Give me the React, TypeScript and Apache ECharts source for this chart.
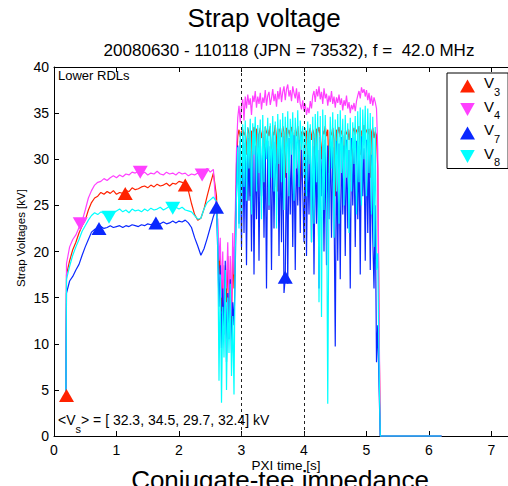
import { useEffect, useRef } from 'react';
import * as echarts from 'echarts';

const FONT = '"Liberation Sans", Arial, Helvetica, sans-serif';

// time samples (s)
const T_RAMP = [0.19, 0.2, 0.25, 0.3, 0.35, 0.4, 0.45, 0.5, 0.55, 0.6,
  0.65, 0.7, 0.75, 0.8, 0.85, 0.9, 0.95, 1.0, 1.05, 1.1,
  1.15, 1.2, 1.25, 1.3, 1.35, 1.4, 1.45, 1.5, 1.55, 1.6,
  1.65, 1.7, 1.75, 1.8, 1.85, 1.9, 1.95, 2.0, 2.05, 2.1,
  2.15, 2.2, 2.25, 2.3, 2.35, 2.4, 2.45, 2.5, 2.55, 2.6];
const T_BURST = [
  2.62, 2.64, 2.66, 2.68, 2.70, 2.72, 2.74, 2.76, 2.78, 2.80,
  2.82, 2.84, 2.86, 2.88, 2.90, 2.92, 2.94, 2.96, 2.98, 3.00,
  3.02, 3.04, 3.06, 3.08, 3.10, 3.12, 3.14, 3.16, 3.18, 3.20,
  3.22, 3.24, 3.26, 3.28, 3.30, 3.32, 3.34, 3.36, 3.38, 3.40,
  3.42, 3.44, 3.46, 3.48, 3.50, 3.52, 3.54, 3.56, 3.58, 3.60,
  3.62, 3.64, 3.66, 3.68, 3.70, 3.72, 3.74, 3.76, 3.78, 3.80,
  3.82, 3.84, 3.86, 3.88, 3.90, 3.92, 3.94, 3.96, 3.98, 4.00,
  4.02, 4.04, 4.06, 4.08, 4.10, 4.12, 4.14, 4.16, 4.18, 4.20,
  4.22, 4.24, 4.26, 4.28, 4.30, 4.32, 4.34, 4.36, 4.38, 4.40,
  4.42, 4.44, 4.46, 4.48, 4.50, 4.52, 4.54, 4.56, 4.58, 4.60,
  4.62, 4.64, 4.66, 4.68, 4.70, 4.72, 4.74, 4.76, 4.78, 4.80,
  4.82, 4.84, 4.86, 4.88, 4.90, 4.92, 4.94, 4.96, 4.98, 5.00,
  5.02, 5.04, 5.06, 5.08, 5.10, 5.12, 5.14, 5.16, 5.18, 5.20];
const T_TAIL = [5.22, 6.2];

// V3 (red)
const V3_RAMP = [4.2, 17.5, 19.0, 20.2, 21.0, 22.0, 22.8, 23.4, 24.5, 25.3,
  25.8, 26.0, 26.4, 26.2, 26.5, 26.3, 26.6, 26.2, 26.4, 26.3,
  26.6, 26.5, 26.9, 26.7, 26.8, 27.0, 27.1, 26.9, 27.2, 27.0,
  27.3, 27.1, 27.2, 27.4, 27.1, 27.4, 27.3, 27.6, 27.5, 27.3,
  26.6, 25.2, 24.0, 23.4, 23.6, 24.6, 26.0, 27.3, 28.5, 26.0];
const V3_BURST = [
  22.0, 17.5, 20.0, 13.5, 18.5, 11.5, 17.0, 14.5, 19.5, 13.0,
  18.0, 12.0, 20.5, 16.0, 22.5, 29.5, 32.5, 33.2, 32.4, 33.0,
  33.2, 32.6, 33.0, 30.5, 33.4, 32.8, 26.0, 33.1, 32.5, 33.5,
  32.9, 33.3, 28.5, 32.7, 33.4, 32.3, 33.1, 27.0, 33.5, 32.8,
  33.2, 32.5, 33.6, 29.0, 33.0, 32.6, 33.7, 32.3, 26.5, 33.3,
  33.0, 32.4, 33.6, 32.9, 28.0, 33.4, 32.7, 33.2, 32.4, 33.5,
  32.8, 30.0, 33.2, 32.5, 33.6, 32.3, 25.5, 33.0, 32.6, 33.0,
  32.4, 33.1, 29.5, 32.8, 33.4, 32.1, 33.2, 32.7, 27.5, 33.3,
  32.9, 33.5, 32.3, 30.0, 33.1, 32.7, 33.6, 32.5, 33.2, 28.5,
  33.0, 32.6, 33.4, 32.2, 26.0, 33.2, 32.8, 33.5, 32.4, 33.1,
  32.5, 29.0, 33.0, 32.7, 33.3, 32.1, 33.2, 27.5, 32.9, 33.4,
  32.6, 33.2, 32.9, 33.6, 30.5, 33.1, 32.5, 33.7, 32.8, 33.2,
  32.7, 33.3, 28.0, 32.9, 33.4, 32.3, 33.0, 32.6, 29.0, 12.0];
const V3_TAIL = [0, 0];

// V4 (magenta)
const V4_RAMP = [4.2, 18.7, 20.5, 21.3, 21.8, 22.6, 23.3, 24.5, 25.8, 26.6,
  27.2, 27.5, 27.6, 27.9, 27.7, 28.0, 28.2, 28.0, 28.3, 28.1,
  28.4, 28.3, 28.6, 28.5, 28.7, 28.4, 28.6, 28.3, 28.5, 28.4,
  28.7, 28.4, 28.3, 28.6, 28.4, 28.5, 28.3, 28.6, 28.4, 28.5,
  28.2, 28.4, 28.3, 28.5, 28.4, 28.7, 29.0, 28.6, 28.9, 24.0];
const V4_BURST = [
  23.5, 19.0, 21.5, 15.0, 20.0, 12.5, 18.5, 16.0, 21.0, 14.0,
  19.5, 13.0, 22.0, 17.5, 24.0, 31.0, 34.5, 35.8, 34.0, 35.8,
  36.5, 34.2, 36.8, 35.5, 37.0, 35.9, 36.6, 34.8, 36.9, 36.2,
  37.4, 35.6, 36.8, 36.0, 37.2, 35.4, 36.7, 36.1, 37.5, 35.8,
  36.9, 37.3, 35.9, 36.6, 37.6, 36.3, 37.1, 35.7, 37.4, 36.5,
  37.8, 36.2, 37.3, 37.9, 36.4, 37.6, 38.1, 36.8, 37.5, 36.3,
  37.9, 37.2, 36.6, 37.7, 36.1, 37.3, 36.0, 35.4, 36.4, 35.2,
  36.0, 34.8, 35.6, 35.0, 36.3, 35.5, 36.9, 37.4, 36.2, 37.6,
  36.8, 37.9, 36.5, 37.3, 36.0, 37.7, 36.6, 37.1, 35.8, 36.9,
  36.2, 37.4, 36.0, 36.8, 35.6, 36.7, 36.1, 37.0, 35.9, 36.6,
  35.3, 36.4, 35.8, 36.9, 35.5, 36.2, 35.0, 35.9, 35.4, 36.1,
  35.2, 36.3, 36.9, 37.4, 36.6, 37.8, 37.2, 37.6, 36.8, 37.5,
  36.4, 37.2, 36.0, 36.9, 35.8, 36.7, 36.2, 35.5, 31.0, 14.0];
const V4_TAIL = [0, 0];

// V7 (blue)
const V7_RAMP = [4.0, 15.5, 16.8, 17.3, 18.0, 18.6, 19.6, 20.5, 21.3, 22.1,
  22.4, 22.5, 22.7, 22.5, 22.6, 22.8, 22.6, 22.7, 22.8, 22.6,
  22.8, 22.7, 22.9, 22.8, 22.7, 22.9, 22.8, 23.0, 22.9, 23.1,
  22.9, 23.0, 23.2, 23.0, 23.1, 23.3, 23.1, 23.3, 23.2, 23.4,
  23.1, 22.6, 21.5, 20.6, 19.6, 20.3, 21.4, 22.6, 23.8, 24.8];
const V7_BURST = [
  20.0, 14.0, 18.5, 9.5, 16.0, 11.0, 19.0, 8.0, 15.5, 10.5,
  17.0, 9.0, 14.5, 12.0, 18.0, 27.0, 31.5, 23.0, 32.0, 20.5,
  32.5, 22.0, 31.8, 18.5, 32.3, 25.5, 31.0, 20.0, 32.6, 17.5,
  31.5, 23.5, 32.8, 19.0, 31.2, 26.0, 32.4, 21.5, 31.7, 16.0,
  32.0, 24.5, 31.4, 18.0, 32.7, 22.5, 31.9, 27.0, 32.2, 19.5,
  31.6, 21.0, 32.5, 15.5, 17.2, 31.0, 16.5, 32.3, 24.0, 31.8,
  20.5, 32.6, 18.0, 31.3, 25.0, 32.1, 22.0, 31.5, 26.5, 21.0,
  31.8, 19.5, 30.5, 24.0, 32.0, 21.0, 31.4, 17.5, 32.3, 23.0,
  31.0, 16.0, 32.4, 26.0, 31.6, 20.0, 32.1, 18.5, 31.5, 23.5,
  32.2, 21.5, 31.3, 25.5, 9.7, 32.0, 19.0, 31.7, 17.0, 32.4,
  24.0, 31.5, 19.5, 32.1, 22.5, 31.0, 16.0, 32.3, 25.0, 31.6,
  20.5, 32.0, 23.5, 31.4, 17.5, 32.5, 26.0, 31.2, 19.0, 32.1,
  22.0, 31.6, 18.0, 30.5, 21.5, 16.0, 25.0, 8.0, 12.0, 5.5];
const V7_TAIL = [0, 0];

// V8 (cyan)
const V8_RAMP = [3.8, 17.0, 18.4, 19.6, 20.5, 21.3, 22.2, 22.8, 23.4, 23.9,
  24.2, 24.0, 24.3, 24.1, 24.0, 23.8, 24.2, 24.4, 24.6, 24.3,
  24.5, 24.2, 24.6, 24.4, 24.5, 24.3, 24.6, 24.4, 24.7, 24.5,
  24.6, 24.8, 24.5, 24.7, 24.9, 24.7, 24.8, 24.6, 24.8, 24.5,
  24.4, 24.3, 23.9, 23.5, 23.6, 24.6, 25.3, 25.6, 25.9, 25.4];
const V8_BURST = [
  21.0, 6.0, 17.5, 3.6, 14.0, 8.5, 18.0, 5.0, 15.0, 9.0,
  16.5, 6.5, 13.0, 4.5, 20.0, 26.0, 31.3, 22.5, 33.0, 24.0,
  33.8, 27.0, 34.2, 25.5, 33.5, 29.0, 34.4, 24.0, 33.9, 30.5,
  34.6, 26.5, 33.7, 28.5, 34.3, 23.5, 34.8, 27.5, 33.6, 30.0,
  34.5, 25.0, 33.9, 28.0, 34.7, 26.5, 34.1, 22.5, 34.9, 29.5,
  34.3, 27.5, 35.0, 24.5, 34.6, 28.5, 35.2, 26.0, 34.4, 30.5,
  35.1, 25.5, 34.5, 29.0, 35.3, 27.0, 34.2, 31.0, 33.6, 28.0,
  33.4, 26.0, 34.1, 29.5, 33.8, 21.0, 34.6, 23.0, 34.9, 27.5,
  35.2, 14.5, 34.7, 12.9, 35.4, 24.5, 34.8, 28.0, 3.5, 27.0,
  34.6, 29.0, 35.1, 21.5, 34.3, 26.5, 34.9, 23.0, 35.3, 28.5,
  34.4, 25.0, 34.8, 28.0, 33.9, 22.0, 34.5, 26.5, 34.0, 29.5,
  34.7, 24.0, 35.2, 27.5, 35.6, 25.0, 35.4, 30.0, 35.8, 26.0,
  35.5, 28.5, 35.0, 24.0, 34.6, 20.5, 33.5, 18.0, 19.8, 8.0];
const V8_TAIL = [0, 0];

// triangle markers
const V3_MARK_T = [0.2, 1.14, 2.1];
const V3_MARK_V = [4.4, 26.3, 27.2];
const V4_MARK_T = [0.42, 1.38, 2.37];
const V4_MARK_V = [23.0, 28.6, 28.3];
const V7_MARK_T = [0.72, 1.63, 2.6, 3.7];
const V7_MARK_V = [22.5, 23.1, 24.8, 17.2];
const V8_MARK_T = [0.88, 1.9];
const V8_MARK_V = [23.7, 24.7];

const NAMES = ['V3', 'V4', 'V7', 'V8'];
const MEAN_TEXT = '> = [ 32.3, 34.5, 29.7, 32.4] kV';
const X_TICKS_MAX = 7.5;

const T_ALL = [...T_RAMP, ...T_BURST, ...T_TAIL];
const DOWN = 'path://M0,0L10,0L5,9Z';
const UP = 'triangle';

const pairs = (t: number[], v: number[]) => t.map((x, i) => [x, v[i]]);

const SERIES_DEF = [
  { name: NAMES[0], color: '#ff2200', v: [...V3_RAMP, ...V3_BURST, ...V3_TAIL], mt: V3_MARK_T, mv: V3_MARK_V, sym: UP },
  { name: NAMES[1], color: '#ff40ff', v: [...V4_RAMP, ...V4_BURST, ...V4_TAIL], mt: V4_MARK_T, mv: V4_MARK_V, sym: DOWN },
  { name: NAMES[2], color: '#0a28ff', v: [...V7_RAMP, ...V7_BURST, ...V7_TAIL], mt: V7_MARK_T, mv: V7_MARK_V, sym: UP },
  { name: NAMES[3], color: '#00ffff', v: [...V8_RAMP, ...V8_BURST, ...V8_TAIL], mt: V8_MARK_T, mv: V8_MARK_V, sym: DOWN },
];

function buildOption() {
  const series: any[] = [];
  SERIES_DEF.forEach((s, idx) => {
    const line: any = {
      name: s.name,
      type: 'line',
      data: pairs(T_ALL, s.v),
      showSymbol: false,
      symbol: 'none',
      clip: false,
      color: s.color,
      itemStyle: { color: s.color },
      lineStyle: { color: s.color, width: 1.2 },
      z: 2,
      emphasis: { disabled: true },
    };
    if (idx === SERIES_DEF.length - 1) {
      line.markLine = {
        silent: true,
        symbol: ['none', 'none'],
        label: { show: false },
        lineStyle: { color: '#222', type: [3, 3], width: 1 },
        emphasis: { disabled: true },
        data: [{ xAxis: 3 }, { xAxis: 4 }],
        z: 6,
      };
    }
    series.push(line);
  });
  SERIES_DEF.forEach((s) => {
    series.push({
      name: s.name,
      type: 'scatter',
      data: pairs(s.mt, s.mv),
      symbol: s.sym,
      symbolSize: [15, 13],
      itemStyle: { color: s.color, opacity: 1 },
      clip: false,
      z: 4,
      emphasis: { disabled: true },
    });
  });

  const axisCommon = {
    axisLine: { show: true, onZero: false, lineStyle: { color: '#000', width: 1 } },
    axisTick: { show: true, inside: true, length: 5, lineStyle: { color: '#000' } },
    splitLine: { show: false },
  };

  return {
    animation: false,
    backgroundColor: '#fff',
    textStyle: { fontFamily: FONT },
    grid: { left: 54, top: 67, width: 468.75, height: 369, containLabel: false },
    xAxis: [
      {
        type: 'value', min: 0, max: X_TICKS_MAX, interval: 1, position: 'bottom',
        ...axisCommon,
        axisLabel: { show: true, color: '#000', fontSize: 14, margin: 7, fontFamily: FONT, showMaxLabel: false },
      },
      {
        type: 'value', min: 0, max: X_TICKS_MAX, interval: 1, position: 'top',
        ...axisCommon,
        axisLabel: { show: false },
      },
    ],
    yAxis: [
      {
        type: 'value', min: 0, max: 40, interval: 5, position: 'left',
        ...axisCommon,
        axisLabel: { show: true, color: '#000', fontSize: 14, margin: 5, fontFamily: FONT },
      },
    ],
    legend: {
      orient: 'vertical',
      left: 447,
      top: 73,
      padding: [2, 8, 1, 13],
      itemGap: 1.5,
      itemWidth: 15,
      itemHeight: 13,
      backgroundColor: '#fff',
      borderColor: '#000',
      borderWidth: 1,
      borderRadius: 0,
      selectedMode: false,
      data: [
        { name: NAMES[0], icon: UP },
        { name: NAMES[1], icon: DOWN },
        { name: NAMES[2], icon: UP },
        { name: NAMES[3], icon: DOWN },
      ],
      formatter: (n: string) => `{v|V}{s|${n.slice(1)}}`,
      textStyle: {
        rich: {
          v: { fontSize: 15, fontFamily: FONT, color: '#000', lineHeight: 22, verticalAlign: 'top', padding: [0, 0, 0, 4] },
          s: { fontSize: 11, fontFamily: FONT, color: '#000', verticalAlign: 'bottom' },
        },
      },
    },
    graphic: [
      {
        type: 'text', x: 264, y: 18, z: 10,
        style: { text: 'Strap voltage', fontSize: 26, fontFamily: FONT, fill: '#000', align: 'center', textAlign: 'center', verticalAlign: 'middle', textVerticalAlign: 'middle' },
      },
      {
        type: 'text', x: 289, y: 50.5, z: 10,
        style: { text: '20080630 - 110118 (JPN = 73532), f =  42.0 MHz', fontSize: 17, fontFamily: FONT, fill: '#000', align: 'center', textAlign: 'center', verticalAlign: 'middle', textVerticalAlign: 'middle' },
      },
      {
        type: 'text', x: 58, y: 75, z: 10,
        style: { text: 'Lower RDLs', fontSize: 13, fontFamily: FONT, fill: '#000', align: 'left', textAlign: 'left', verticalAlign: 'middle', textVerticalAlign: 'middle' },
      },
      {
        type: 'text', x: 58, y: 413, z: 10,
        style: {
          text: `{a|<V}{s|s}{a|${MEAN_TEXT}}`,
          fontFamily: FONT, fill: '#000', align: 'left', textAlign: 'left', verticalAlign: 'top', textVerticalAlign: 'top',
          rich: {
            a: { fontSize: 14, fontFamily: FONT, fill: '#000', lineHeight: 21, verticalAlign: 'top' },
            s: { fontSize: 11, fontFamily: FONT, fill: '#000', verticalAlign: 'bottom' },
          },
        },
      },
      {
        type: 'text', x: 21, y: 238, rotation: Math.PI / 2, z: 10,
        style: { text: 'Strap Voltages [kV]', fontSize: 11.5, fontFamily: FONT, fill: '#000', align: 'center', textAlign: 'center', verticalAlign: 'middle', textVerticalAlign: 'middle' },
      },
      {
        type: 'text', x: 286, y: 465, z: 10,
        style: { text: 'PXI time [s]', fontSize: 13.5, fontFamily: FONT, fill: '#000', align: 'center', textAlign: 'center', verticalAlign: 'middle', textVerticalAlign: 'middle' },
      },
      {
        type: 'text', x: 280, y: 479.5, z: 10,
        style: { text: 'Conjugate-tee impedance', fontSize: 26, fontFamily: FONT, fill: '#000', align: 'center', textAlign: 'center', verticalAlign: 'middle', textVerticalAlign: 'middle' },
      },
    ],
    series,
  };
}

export default function App() {
  const ref = useRef<HTMLDivElement>(null);
  useEffect(() => {
    if (!ref.current) return;
    const chart = echarts.init(ref.current, null, { renderer: 'svg' });
    chart.setOption(buildOption() as any);
    return () => chart.dispose();
  }, []);
  return (
    <div style={{ position: 'fixed', left: 0, top: 0, width: 508, height: 486, overflow: 'hidden', background: '#fff' }}>
      <div ref={ref} style={{ width: 560, height: 486 }} />
    </div>
  );
}
